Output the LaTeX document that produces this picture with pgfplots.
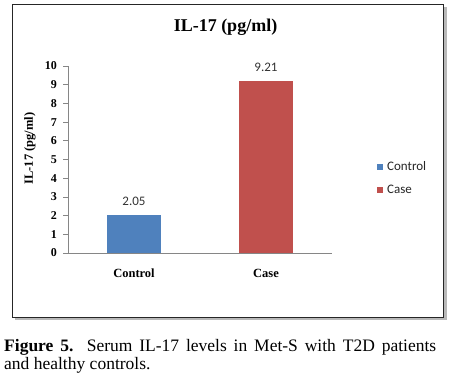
\documentclass[border=0pt]{standalone}
\usepackage{pgfplots}
\pgfplotsset{compat=1.18}
\usepackage{fontspec}
\setmainfont{Liberation Serif}
\newfontfamily\calibri{Carlito}
\definecolor{ctrlblue}{HTML}{4F81BD}
\definecolor{casered}{HTML}{C0504D}
\definecolor{axgray}{HTML}{868686}
\begin{document}
\begin{tikzpicture}
\useasboundingbox (0pt,0pt) rectangle (452pt,379pt);
\fill[gray!55] (15pt,59pt) rectangle (447pt,372pt);
\fill[white] (12pt,62pt) rectangle (443pt,375pt);
\draw[black!85, line width=0.9pt] (12pt,62pt) rectangle (443pt,375pt);
\node[anchor=base, inner sep=0pt, font=\fontsize{18}{18}\selectfont\bfseries] at (225.5pt,347pt) {IL-17 (pg/ml)};
\node[rotate=90, inner sep=0pt, font=\fontsize{12.5}{12.5}\selectfont\bfseries] at (30pt,230.5pt) {IL-17 (pg/ml)};
\begin{axis}[
  at={(68pt,126pt)}, anchor=south west,
  scale only axis, width=264pt, height=187pt,
  xmin=-0.5, xmax=1.5, ymin=0, ymax=10,
  axis x line*=bottom, axis y line*=left,
  axis line style={-, draw=axgray, line width=0.8pt},
  xtick={0,1}, xticklabels={Control,Case},
  x tick style={draw=none},
  ytick={0,1,...,10},
  y tick style={draw=axgray, line width=0.6pt},
  tick align=outside, major tick length=5pt,
  /pgf/number format/assume math mode=true,
  yticklabel style={anchor=east, inner sep=0pt, xshift=-6pt, font=\fontsize{12}{12}\selectfont\bfseries},
  xticklabel style={anchor=base, inner sep=0pt, yshift=-20pt, font=\fontsize{12.5}{12.5}\selectfont\bfseries},
  ybar, bar width=54pt,
  nodes near coords={\pgfmathprintnumber[fixed,fixed zerofill,precision=2,assume math mode=true]{\pgfplotspointmeta}},
  every node near coord/.append style={anchor=south, inner sep=0pt, yshift=8.5pt, text=black!80, font=\calibri\fontsize{13}{13}\selectfont},
  legend image code/.code={\fill[#1] (0pt,-3pt) rectangle (6pt,3pt);},
  legend style={draw=none, fill=none, inner sep=0pt, anchor=west, at={(1.1705,0.40)}, row sep=11pt, column sep=3pt, font=\calibri\fontsize{13}{13}\selectfont, nodes={inner sep=1pt, text=black!85}},
  legend cell align=left,
]
\addplot[fill=ctrlblue, draw=none, bar shift=0pt] coordinates {(0,2.05)};
\addlegendentry{Control}
\addplot[fill=casered, draw=none, bar shift=0pt] coordinates {(1,9.21)};
\addlegendentry{Case}
\end{axis}
\node[anchor=north west, inner sep=0pt, text width=432pt, align=justify, font=\fontsize{17.5}{18.5}\selectfont] at (4pt,40pt) {\textbf{Figure 5.} Serum IL-17 levels in Met-S with T2D patients\linebreak and healthy controls.};
\end{tikzpicture}
\end{document}
